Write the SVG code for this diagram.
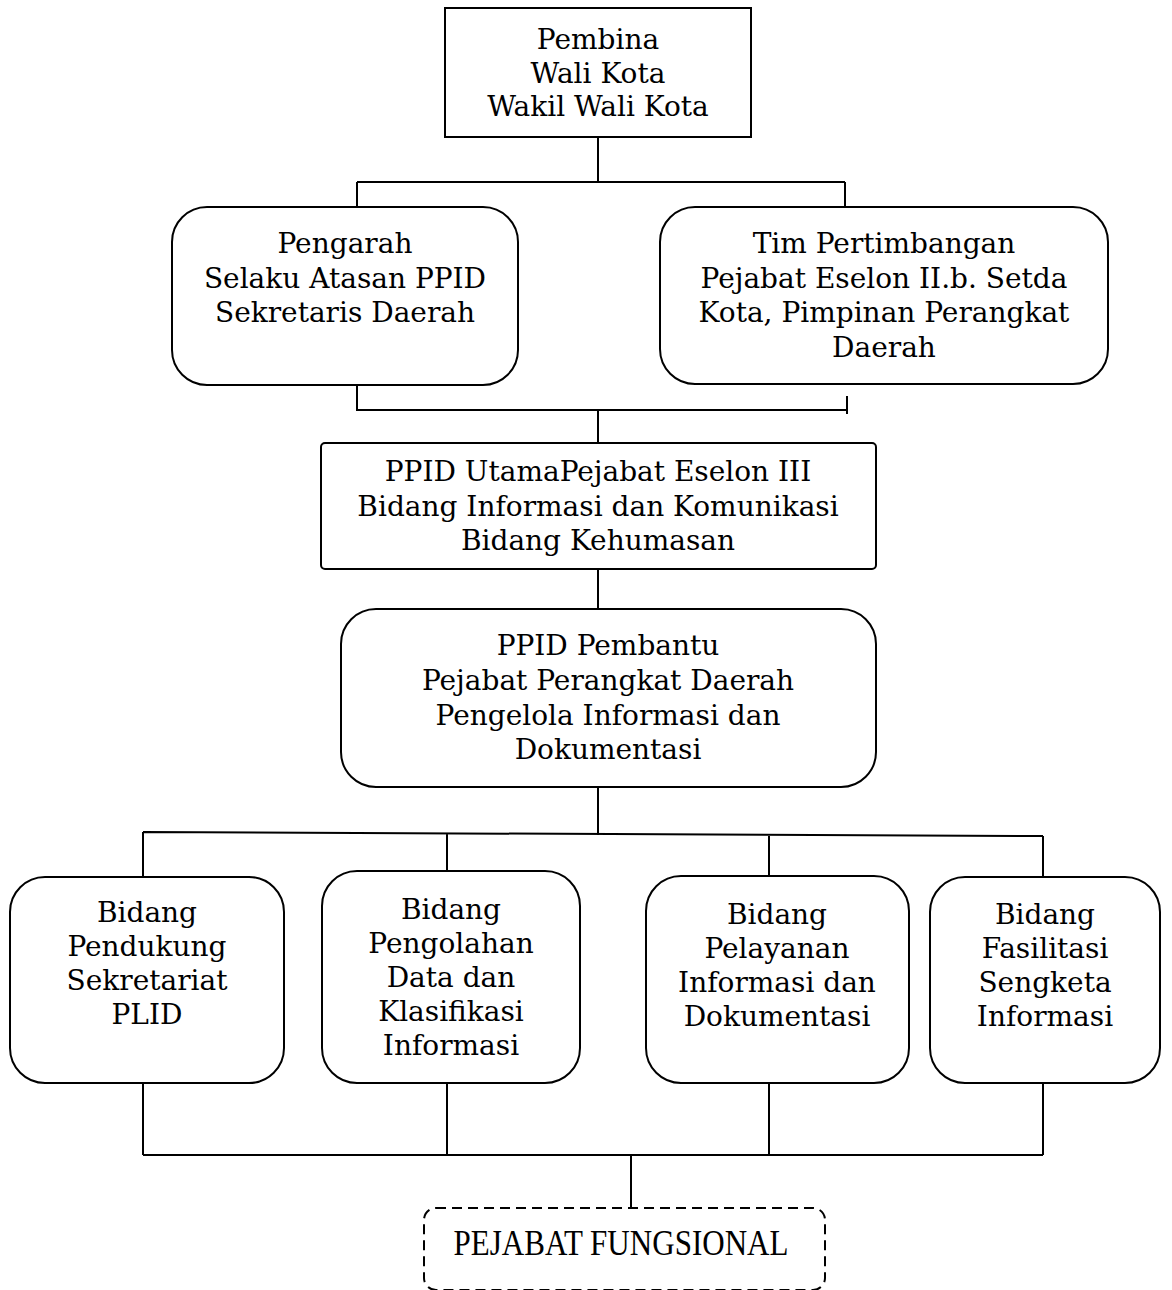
<svg xmlns="http://www.w3.org/2000/svg" width="1172" height="1290" viewBox="0 0 1172 1290">
<style>
.box{fill:#fff;stroke:#000;stroke-width:2}
.dash{fill:#fff;stroke:#000;stroke-width:2;stroke-dasharray:10 6}
.t{font-family:"DejaVu Serif",serif;font-size:28px;fill:#000;text-anchor:middle}
.f{font-family:"Liberation Serif",serif;font-size:35px;fill:#000;text-anchor:middle}
.c{fill:none;stroke:#000;stroke-width:2}
</style>
<rect width="1172" height="1290" fill="#fff"/>
<g id="connectors">
<path class="c" d="M598 137V182M357 182H845M357 182V207M845 182V207"/>
<path class="c" d="M357 385V410H847M847 396V414M598 410V443"/>
<path class="c" d="M598 569V609M598 787V835"/>
<path class="c" d="M143 832L1043 836M143 832V877M447 834V871M769 835V876M1043 836V877"/>
<path class="c" d="M143 1083V1155M447 1083V1155M769 1083V1155M1043 1083V1155M143 1155H1043M631 1155V1208"/>
</g>
<g id="pembina">
<rect class="box" x="445" y="8" width="306" height="129"/>
<text class="t" x="598" y="49">Pembina</text>
<text class="t" x="598" y="83">Wali Kota</text>
<text class="t" x="598" y="116">Wakil Wali Kota</text>
</g>
<g id="pengarah">
<rect class="box" x="172" y="207" width="346" height="178" rx="35"/>
<text class="t" x="345" y="253">Pengarah</text>
<text class="t" x="345" y="288">Selaku Atasan PPID</text>
<text class="t" x="345" y="322">Sekretaris Daerah</text>
</g>
<g id="tim">
<rect class="box" x="660" y="207" width="448" height="177" rx="35"/>
<text class="t" x="884" y="253">Tim Pertimbangan</text>
<text class="t" x="884" y="288">Pejabat Eselon II.b. Setda</text>
<text class="t" x="884" y="322">Kota, Pimpinan Perangkat</text>
<text class="t" x="884" y="357">Daerah</text>
</g>
<g id="ppid-utama">
<rect class="box" x="321" y="443" width="555" height="126" rx="4"/>
<text class="t" x="598" y="481">PPID UtamaPejabat Eselon III</text>
<text class="t" x="598" y="516">Bidang Informasi dan Komunikasi</text>
<text class="t" x="598" y="550">Bidang Kehumasan</text>
</g>
<g id="ppid-pembantu">
<rect class="box" x="341" y="609" width="535" height="178" rx="35"/>
<text class="t" x="608" y="655">PPID Pembantu</text>
<text class="t" x="608" y="690">Pejabat Perangkat Daerah</text>
<text class="t" x="608" y="725">Pengelola Informasi dan</text>
<text class="t" x="608" y="759">Dokumentasi</text>
</g>
<g id="bidang-pendukung">
<rect class="box" x="10" y="877" width="274" height="206" rx="35"/>
<text class="t" x="147" y="922">Bidang</text>
<text class="t" x="147" y="956">Pendukung</text>
<text class="t" x="147" y="990">Sekretariat</text>
<text class="t" x="147" y="1024">PLID</text>
</g>
<g id="bidang-pengolahan">
<rect class="box" x="322" y="871" width="258" height="212" rx="35"/>
<text class="t" x="451" y="919">Bidang</text>
<text class="t" x="451" y="953">Pengolahan</text>
<text class="t" x="451" y="987">Data dan</text>
<text class="t" x="451" y="1021">Klasifikasi</text>
<text class="t" x="451" y="1055">Informasi</text>
</g>
<g id="bidang-pelayanan">
<rect class="box" x="646" y="876" width="263" height="207" rx="35"/>
<text class="t" x="777" y="924">Bidang</text>
<text class="t" x="777" y="958">Pelayanan</text>
<text class="t" x="777" y="992">Informasi dan</text>
<text class="t" x="777" y="1026">Dokumentasi</text>
</g>
<g id="bidang-fasilitasi">
<rect class="box" x="930" y="877" width="230" height="206" rx="35"/>
<text class="t" x="1045" y="924">Bidang</text>
<text class="t" x="1045" y="958">Fasilitasi</text>
<text class="t" x="1045" y="992">Sengketa</text>
<text class="t" x="1045" y="1026">Informasi</text>
</g>
<g id="pejabat-fungsional">
<rect class="dash" x="424" y="1208" width="401" height="82" rx="12"/>
<text class="f" x="621" y="1255" textLength="335" lengthAdjust="spacingAndGlyphs">PEJABAT FUNGSIONAL</text>
</g>
</svg>
